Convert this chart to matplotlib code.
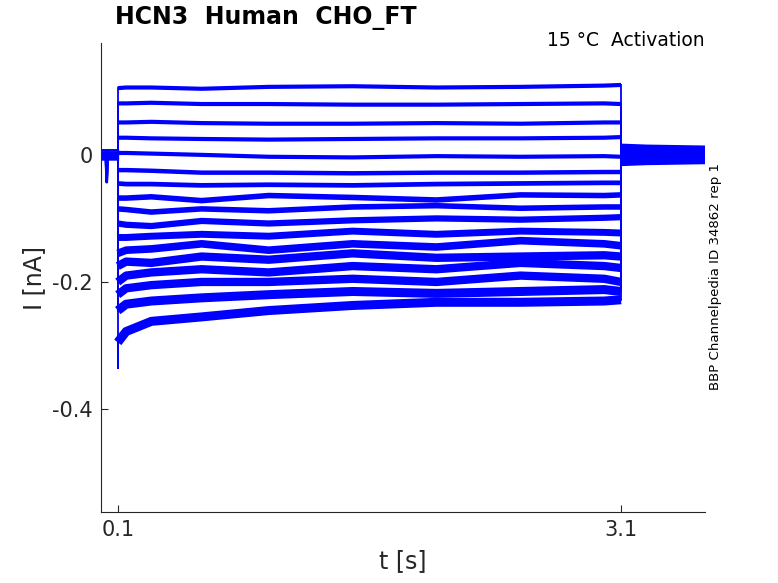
import numpy as np
import matplotlib.pyplot as plt

# baseline before the step (shared by all sweeps), with the small transient
pre_t = [0.0, 0.030, 0.034, 0.038, 0.1]
pre_i = [0.0, 0.0, -0.036, 0.0, 0.0]
pre_offsets = [0.007, 0.0035, 0.0, -0.0035, -0.007]

# step period, values (nA)
step_t = [0.1, 0.15, 0.3, 0.6, 1.0, 1.5, 2.0, 2.5, 3.0, 3.1]
sweeps = [
    [0.105, 0.106, 0.106, 0.104, 0.107, 0.108, 0.106, 0.107, 0.109, 0.110],
    [0.081, 0.081, 0.082, 0.080, 0.080, 0.079, 0.079, 0.080, 0.081, 0.080],
    [0.051, 0.051, 0.052, 0.050, 0.049, 0.049, 0.050, 0.049, 0.051, 0.051],
    [0.027, 0.027, 0.026, 0.025, 0.024, 0.025, 0.026, 0.026, 0.027, 0.028],
    [0.003, 0.003, 0.002, 0.000, -0.003, -0.004, -0.002, -0.003, -0.002, -0.003],
    [-0.024, -0.024, -0.025, -0.028, -0.028, -0.029, -0.028, -0.028, -0.027, -0.027],
    [-0.045, -0.046, -0.046, -0.048, -0.047, -0.048, -0.046, -0.045, -0.044, -0.044],
    [-0.068, -0.068, -0.066, -0.072, -0.064, -0.067, -0.071, -0.063, -0.064, -0.063],
    [-0.085, -0.086, -0.090, -0.085, -0.088, -0.082, -0.080, -0.084, -0.082, -0.082],
    [-0.108, -0.110, -0.112, -0.104, -0.108, -0.103, -0.100, -0.102, -0.099, -0.098],
    [-0.130, -0.130, -0.128, -0.125, -0.128, -0.120, -0.125, -0.120, -0.122, -0.123],
    [-0.155, -0.150, -0.148, -0.140, -0.150, -0.140, -0.145, -0.135, -0.140, -0.143],
    [-0.175, -0.168, -0.170, -0.160, -0.165, -0.155, -0.162, -0.160, -0.158, -0.160],
    [-0.200, -0.190, -0.185, -0.180, -0.185, -0.175, -0.180, -0.170, -0.175, -0.178],
    [-0.220, -0.210, -0.205, -0.200, -0.200, -0.195, -0.200, -0.190, -0.195, -0.200],
    [-0.245, -0.235, -0.230, -0.225, -0.220, -0.215, -0.218, -0.215, -0.212, -0.215],
    [-0.295, -0.278, -0.262, -0.255, -0.245, -0.237, -0.232, -0.232, -0.230, -0.228],
]
# deepest point of the capacitive spike at step onset
onset_peak = [0.105, 0.081, 0.051, 0.027, 0.003, -0.024, -0.045, -0.068, -0.085,
              -0.108, -0.130, -0.155, -0.175, -0.200, -0.220, -0.245, -0.335]
# line widths mimic the noise band of each sweep
widths = [3, 3, 3, 3, 3, 3.2, 3.4, 4, 4, 4.5, 5, 5.5, 6, 6, 6, 6.5, 6.5]

# tail after the step
tail_t = [3.1, 3.25, 3.6]
tail_start = [0.016, 0.012, 0.008, 0.004, 0.0, -0.004, -0.008, -0.012, -0.016,
              0.014, 0.006, -0.006, -0.014, 0.010, -0.010, 0.002, -0.002]
tail_end = [0.013, 0.010, 0.007, 0.003, 0.0, -0.003, -0.007, -0.010, -0.013,
            0.011, 0.005, -0.005, -0.011, 0.008, -0.008, 0.001, -0.001]

blue = (0, 0, 1)
fig = plt.figure(figsize=(7.78, 5.83), dpi=100)
ax = fig.add_axes([0.1298, 0.1218, 0.7763, 0.8044])

for off in pre_offsets:
    ax.plot(pre_t, [v + off for v in pre_i], color=blue, lw=2)

for k, s in enumerate(sweeps):
    # step onset
    ax.plot([step_t[0], step_t[0], step_t[0]], [0, onset_peak[k], s[0]], color=blue, lw=1.3)
    # plateau
    ax.plot(step_t, s, color=blue, lw=widths[k], solid_capstyle='butt')
    # step offset
    ax.plot([step_t[-1], tail_t[0]], [s[-1], tail_start[k]], color=blue, lw=1.3)
    tail_mid = (tail_start[k] + tail_end[k]) / 2
    ax.plot(tail_t, [tail_start[k], tail_mid, tail_end[k]], color=blue, lw=1.6,
            solid_capstyle='butt')

ax.set_xlim(0, 3.6)
ax.set_ylim(-0.562, 0.176)
ax.set_xticks([0.1, 3.1])
ax.set_xticklabels(['0.1', '3.1'])
ax.set_yticks([-0.4, -0.2, 0])
ax.set_yticklabels(['-0.4', '-0.2', '0'])
gray = '#262626'
for side in ['top', 'right']:
    ax.spines[side].set_visible(False)
for side in ['left', 'bottom']:
    ax.spines[side].set_color(gray)
    ax.spines[side].set_linewidth(0.8)
ax.tick_params(direction='in', length=5, width=0.8, colors=gray, labelsize=15, pad=6)
ax.set_xlabel('t [s]', fontsize=17, color=gray, labelpad=6)
ax.set_ylabel('I [nA]', fontsize=17, color=gray, labelpad=4)

fig.text(115 / 778, 1 - 18 / 583, 'HCN3  Human  CHO_FT', fontsize=17, fontweight='bold',
         ha='left', va='center')
fig.text(705 / 778, 1 - 41 / 583, '15 °C  Activation', fontsize=13.5, ha='right', va='center')
fig.text(716 / 778, 1 - 277 / 583, 'BBP Channelpedia ID 34862 rep 1', fontsize=9.6,
         rotation=90, ha='center', va='center')

fig.savefig('out.png', dpi=100)
